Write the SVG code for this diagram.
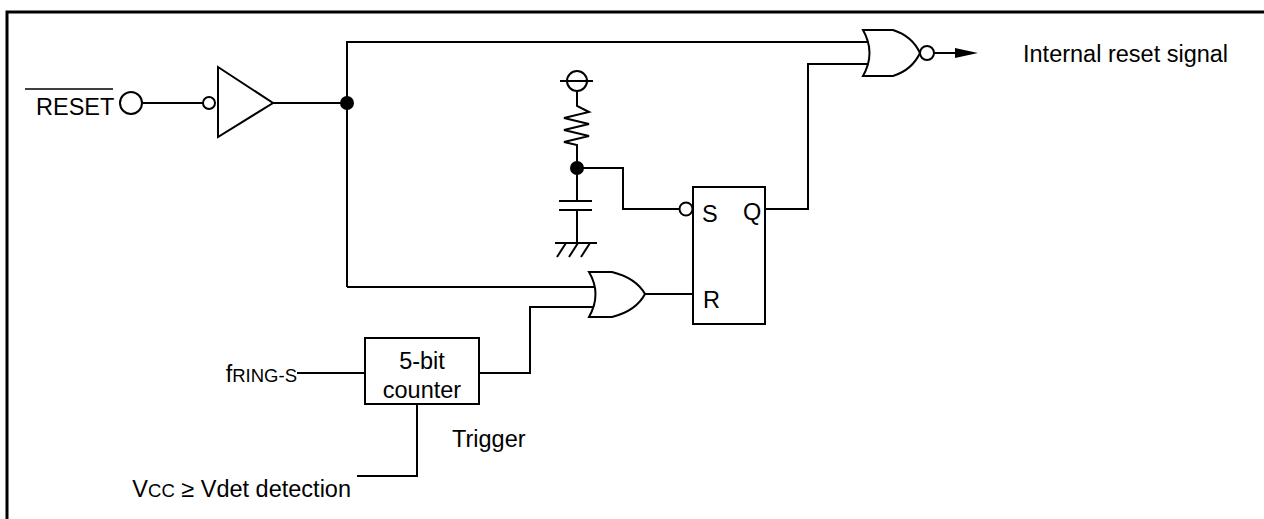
<svg xmlns="http://www.w3.org/2000/svg" width="1264" height="519" viewBox="0 0 1264 519">
<style>
.w{fill:none;stroke:#000;stroke-width:2;stroke-linejoin:miter}
.s{fill:#fff;stroke:#000;stroke-width:2}
.d{fill:#000;stroke:none}
text{font-family:"Liberation Sans",Arial,sans-serif;font-size:23.5px;fill:#000}
.sm{font-size:18.5px}
</style>
<rect width="1264" height="519" fill="#fff"/>
<path d="M7,519 V12 H1264" fill="none" stroke="#000" stroke-width="3"/>
<g id="connectors">
<path class="w" d="M142,103 H203"/>
<path class="w" d="M273,103 H347"/>
<path class="w" d="M347,287 V42 H870"/>
<path class="w" d="M347,287 H596"/>
<path class="w" d="M765,209 H808 V64 H870"/>
<path class="w" d="M934,53 H957"/>
<polygon class="d" points="955,48 978,53 955,58"/>
<path class="w" d="M577,168 H623 V209 H679"/>
<path class="w" d="M645,294 H693"/>
<path class="w" d="M479,373 H530 V307 H596"/>
<path class="w" d="M297,373 H365"/>
<path class="w" d="M417,404 V476 H357"/>
</g>
<g id="reset-pin">
<circle class="s" cx="131" cy="103" r="11"/>
<line x1="25" y1="89" x2="113" y2="89" stroke="#000" stroke-width="1.5"/>
<text x="36" y="115">RESET</text>
</g>
<g id="buffer">
<polygon class="s" points="218,67 273,103 218,137"/>
<circle class="s" cx="209" cy="103" r="6"/>
</g>
<g id="junction1"><circle class="d" cx="347" cy="103" r="7"/></g>
<g id="nor-gate">
<path class="s" d="M863,30 H893 Q912,36 920,53 Q912,70 893,76 H863 Q876,53 863,30 Z"/>
<circle class="s" cx="927" cy="53" r="7"/>
</g>
<g id="output-label"><text x="1023" y="62">Internal reset signal</text></g>
<g id="rc-network">
<circle class="w" cx="577" cy="81" r="10"/>
<line class="w" x1="560" y1="81" x2="593" y2="81"/>
<path class="w" d="M577,91 V106 L589,112 L564,118 L589,124 L564,130 L589,136 L564,142 L577,145 V201"/>
<line class="w" x1="559" y1="201" x2="592" y2="201"/>
<line class="w" x1="559" y1="210" x2="592" y2="210"/>
<path class="w" d="M577,210 V243 M555,243 H597 M566,243 L557,257 M578,243 L569,257 M590,243 L581,257"/>
<circle class="d" cx="577" cy="168" r="7"/>
</g>
<g id="sr-flipflop">
<rect class="s" x="693" y="187" width="72" height="137"/>
<circle class="s" cx="686" cy="209" r="6.5"/>
<text x="702" y="222">S</text>
<text x="743" y="220">Q</text>
<text x="703" y="308">R</text>
</g>
<g id="or-gate">
<path class="s" d="M589,272 H612 Q636,278 645,294 Q636,311 612,317 H589 Q602,294 589,272 Z"/>
</g>
<g id="counter">
<rect class="s" x="365" y="338" width="114" height="66"/>
<text x="422" y="369" text-anchor="middle">5-bit</text>
<text x="422" y="398" text-anchor="middle">counter</text>
</g>
<g id="fring-label"><text x="297" y="382" text-anchor="end">f<tspan class="sm">RING-S</tspan></text></g>
<g id="trigger-label"><text x="452" y="447">Trigger</text></g>
<g id="vcc-label"><text x="351" y="497" text-anchor="end">V<tspan class="sm">CC</tspan> ≥ Vdet detection</text></g>
</svg>
